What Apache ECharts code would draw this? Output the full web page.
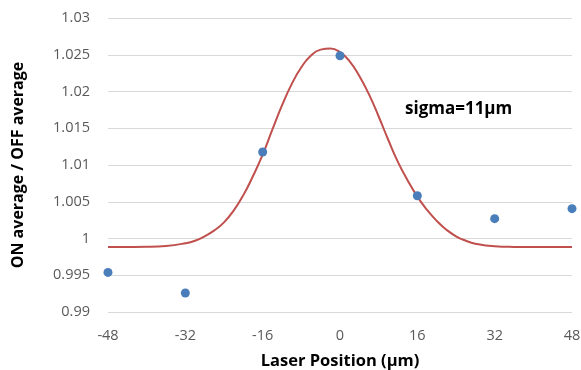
<!DOCTYPE html>
<html lang="en">
    <head>
        <title>Laser Position Scan</title>
        <meta charset="utf-8">
        <script src='https://cdn.jsdelivr.net/npm/echarts@6/dist/echarts.min.js'></script>
    </head>

    <style>
        html, body, #main {
            width: 100%;
            height: 100%;
            margin: 0;
            background: #fff;
        }
    </style>

    <body>
        <div id='main'></div>

        <script>
            // measured points
            const positions = [-48, -32, -16, 0, 16, 32, 48];
            const ratios = [0.99539, 0.99259, 1.01177, 1.02487, 1.00582, 1.0027, 1.00406];

            // fitted gaussian
            const fitX = [-48, -44, -40, -36, -32, -30, -28, -26, -24, -22, -20, -18, -16, -14, -12, -10, -8, -6, -4, -2,
                          0, 2, 4, 6, 8, 10, 12, 14, 16, 18, 20, 22, 24, 26, 28, 32, 36, 40, 48];
            const fitY = [0.99884, 0.99885, 0.99887, 0.99898, 0.99935, 0.9997, 1.0003, 1.0011, 1.0022, 1.0038,
                          1.0059, 1.0085, 1.0114, 1.0148, 1.0181, 1.021, 1.0233, 1.0249, 1.0257, 1.02585,
                          1.02535, 1.0241, 1.0221, 1.0196, 1.0166, 1.0134, 1.0104, 1.0079, 1.0057, 1.0039,
                          1.0024, 1.0012, 1.0003, 0.9997, 0.9993, 0.99895, 0.99886, 0.99884, 0.99884];

            const sigmaLabel = 'sigma=11\u00b5m';

            const font = '"Open Sans", "Liberation Sans", sans-serif';

            const chart = echarts.init(document.getElementById('main'));

            const option = {
                animation: false,
                grid: { left: 108, right: 9, top: 18, bottom: 58, outerBoundsMode: 'none', containLabel: false },
                xAxis: {
                    type: 'value',
                    min: -48,
                    max: 48,
                    interval: 16,
                    name: 'Laser Position (\u00b5m)',
                    nameLocation: 'middle',
                    nameGap: 41,
                    nameTextStyle: { fontFamily: font, fontWeight: 'bold', fontSize: 16.5, color: '#000' },
                    axisLine: { show: false },
                    axisTick: { show: false },
                    splitLine: { show: false },
                    axisLabel: { fontFamily: font, fontSize: 14.5, color: '#595959', margin: 16 }
                },
                yAxis: {
                    type: 'value',
                    min: 0.99,
                    max: 1.03,
                    interval: 0.005,
                    name: 'ON average / OFF average',
                    nameLocation: 'middle',
                    nameGap: 82,
                    nameTextStyle: { fontFamily: font, fontWeight: 'bold', fontSize: 16, color: '#000' },
                    axisLine: { show: false },
                    axisTick: { show: false },
                    splitLine: { lineStyle: { color: '#d9d9d9', width: 1 } },
                    axisLabel: {
                        fontFamily: font, fontSize: 14.5, color: '#595959', margin: 18,
                        formatter: v => String(parseFloat(v.toFixed(3)))
                    }
                },
                series: [
                    {
                        type: 'line',
                        data: fitX.map((x, i) => [x, fitY[i]]),
                        smooth: true,
                        showSymbol: false,
                        lineStyle: { color: '#c0504d', width: 2 },
                        z: 2
                    },
                    {
                        type: 'scatter',
                        data: positions.map((x, i) => [x, ratios[i]]),
                        symbolSize: 9,
                        itemStyle: { color: '#4a7ebb', opacity: 1 },
                        z: 3
                    }
                ],
                graphic: [{
                    type: 'text',
                    left: 405,
                    top: 101,
                    style: { text: sigmaLabel, font: 'bold 17px ' + font, fill: '#000' }
                }]
            };

            chart.setOption(option);

            window.onresize = function () {
                chart.resize();
            }
        </script>
    </body>
</html>
